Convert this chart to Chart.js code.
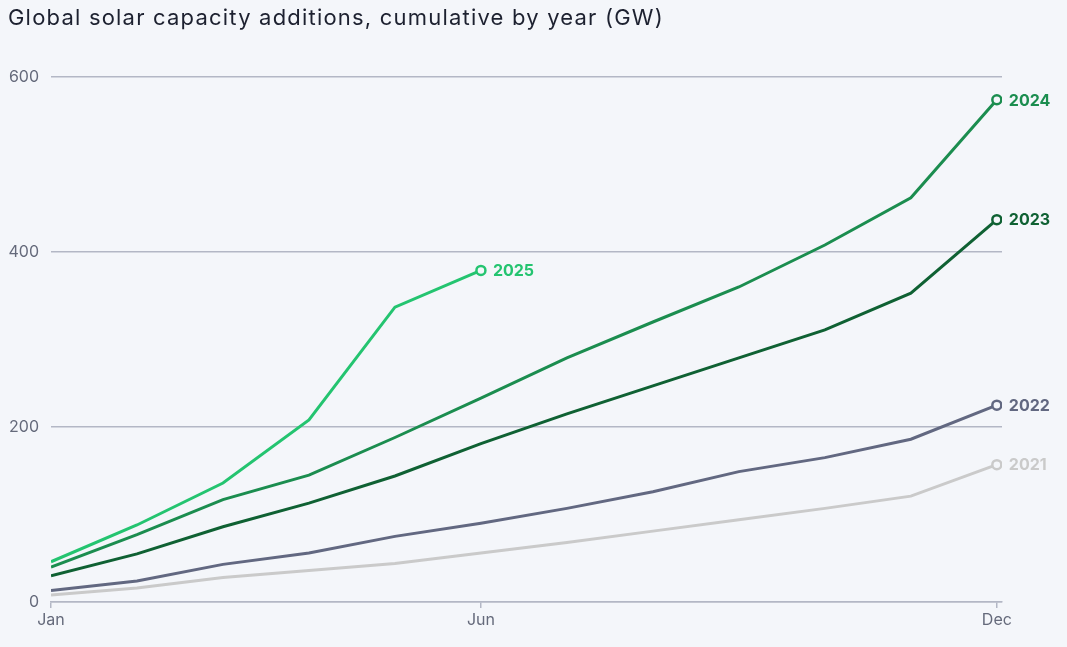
<!DOCTYPE html>
<html>
<head>
<meta charset="utf-8">
<script src="https://cdn.jsdelivr.net/npm/chart.js@4"></script>
<style>
  html, body { margin: 0; padding: 0; background: #f4f6fa; }
  #wrap { position: relative; width: 1067px; height: 647px; }
  #title {
    position: absolute; left: 8px; top: 4px; margin: 0;
    font: 400 22px Inter, sans-serif; letter-spacing: 1.2px;
    color: #1d2130; white-space: nowrap;
  }
</style>
</head>
<body>
<div id="wrap">
  <h1 id="title">Global solar capacity additions, cumulative by year (GW)</h1>
  <canvas id="solarChart"></canvas>
</div>
<script>
// Months on the x axis, only Jan / Jun / Dec get a label
const months = ['Jan', 'Feb', 'Mar', 'Apr', 'May', 'Jun', 'Jul', 'Aug', 'Sep', 'Oct', 'Nov', 'Dec'];
const shownTicks = [0, 5, 11];
const yTicks = [0, 200, 400, 600];

// Cumulative GW
const years = ['2021', '2022', '2023', '2024', '2025'];
const cap2021 = [8, 16, 28, 36, 44, 56, 68, 81, 94, 107, 121, 157];
const cap2022 = [13, 24, 43, 56, 75, 90, 107, 126, 149, 165, 186, 225];
const cap2023 = [30, 55, 86, 113, 144, 181, 215, 247, 279, 311, 353, 437];
const cap2024 = [40, 77, 117, 145, 188, 233, 279, 320, 360, 408, 462, 574];
const cap2025 = [46, 88, 136, 208, 337, 379];

const lineColors = ['#cacaca', '#626881', '#0f6133', '#1b8d4f', '#24c470'];
const bg = '#f4f6fa';

document.addEventListener("DOMContentLoaded", function() {
    const series = [cap2021, cap2022, cap2023, cap2024, cap2025];

    const datasets = series.map(function(vals, i) {
        return {
            label: years[i],
            data: vals.map((v, m) => ({ x: m, y: v })),
            borderColor: lineColors[i],
            borderWidth: 3,
            tension: 0,
            fill: false,
            pointRadius: vals.map((v, m) => m === vals.length - 1 ? 4.5 : 0),
            pointBorderWidth: 2.5,
            pointBackgroundColor: bg,
            pointBorderColor: lineColors[i]
        };
    });

    // Year label next to the last point of each line
    const endLabels = {
        id: 'endLabels',
        afterDatasetsDraw(chart) {
            const c = chart.ctx;
            c.save();
            c.font = 'bold 16px Inter';
            c.textBaseline = 'middle';
            chart.data.datasets.forEach(function(ds, i) {
                const meta = chart.getDatasetMeta(i);
                const pt = meta.data[meta.data.length - 1];
                c.fillStyle = lineColors[i];
                c.fillText(ds.label, pt.x + 12, pt.y + 1);
            });
            c.restore();
        }
    };

    new Chart(document.getElementById('solarChart'), {
        type: 'line',
        data: { datasets: datasets },
        plugins: [endLabels],
        options: {
            responsive: true,
            maintainAspectRatio: false,
            animation: false,
            layout: { padding: { left: 0, right: 65, top: 77, bottom: 0 } },
            plugins: {
                legend: { display: false },
                tooltip: { enabled: false },
                title: { display: false }
            },
            scales: {
                x: {
                    type: 'linear',
                    min: 0,
                    max: 11.06,
                    afterBuildTicks: function(scale) {
                        scale.ticks = shownTicks.map(v => ({ value: v }));
                    },
                    afterFit: function(scale) { scale.height = 45; },
                    ticks: {
                        color: '#656a7b',
                        font: { family: 'Inter', size: 16 },
                        padding: 3,
                        maxRotation: 0,
                        callback: function(v) { return months[v]; }
                    },
                    grid: {
                        drawOnChartArea: false,
                        drawTicks: true,
                        tickLength: 6,
                        color: '#b3b7c5',
                        lineWidth: 1.5
                    },
                    border: { display: true, color: '#b3b7c5', width: 1.5 }
                },
                y: {
                    min: 0,
                    max: 600,
                    afterBuildTicks: function(scale) {
                        scale.ticks = yTicks.map(v => ({ value: v }));
                    },
                    afterFit: function(scale) { scale.width = 51; },
                    ticks: {
                        color: '#656a7b',
                        font: { family: 'Inter', size: 16 },
                        padding: 12
                    },
                    grid: {
                        drawTicks: false,
                        color: '#b3b7c5',
                        lineWidth: 1.5
                    },
                    border: { display: false }
                }
            }
        }
    });
});
</script>
</body>
</html>
